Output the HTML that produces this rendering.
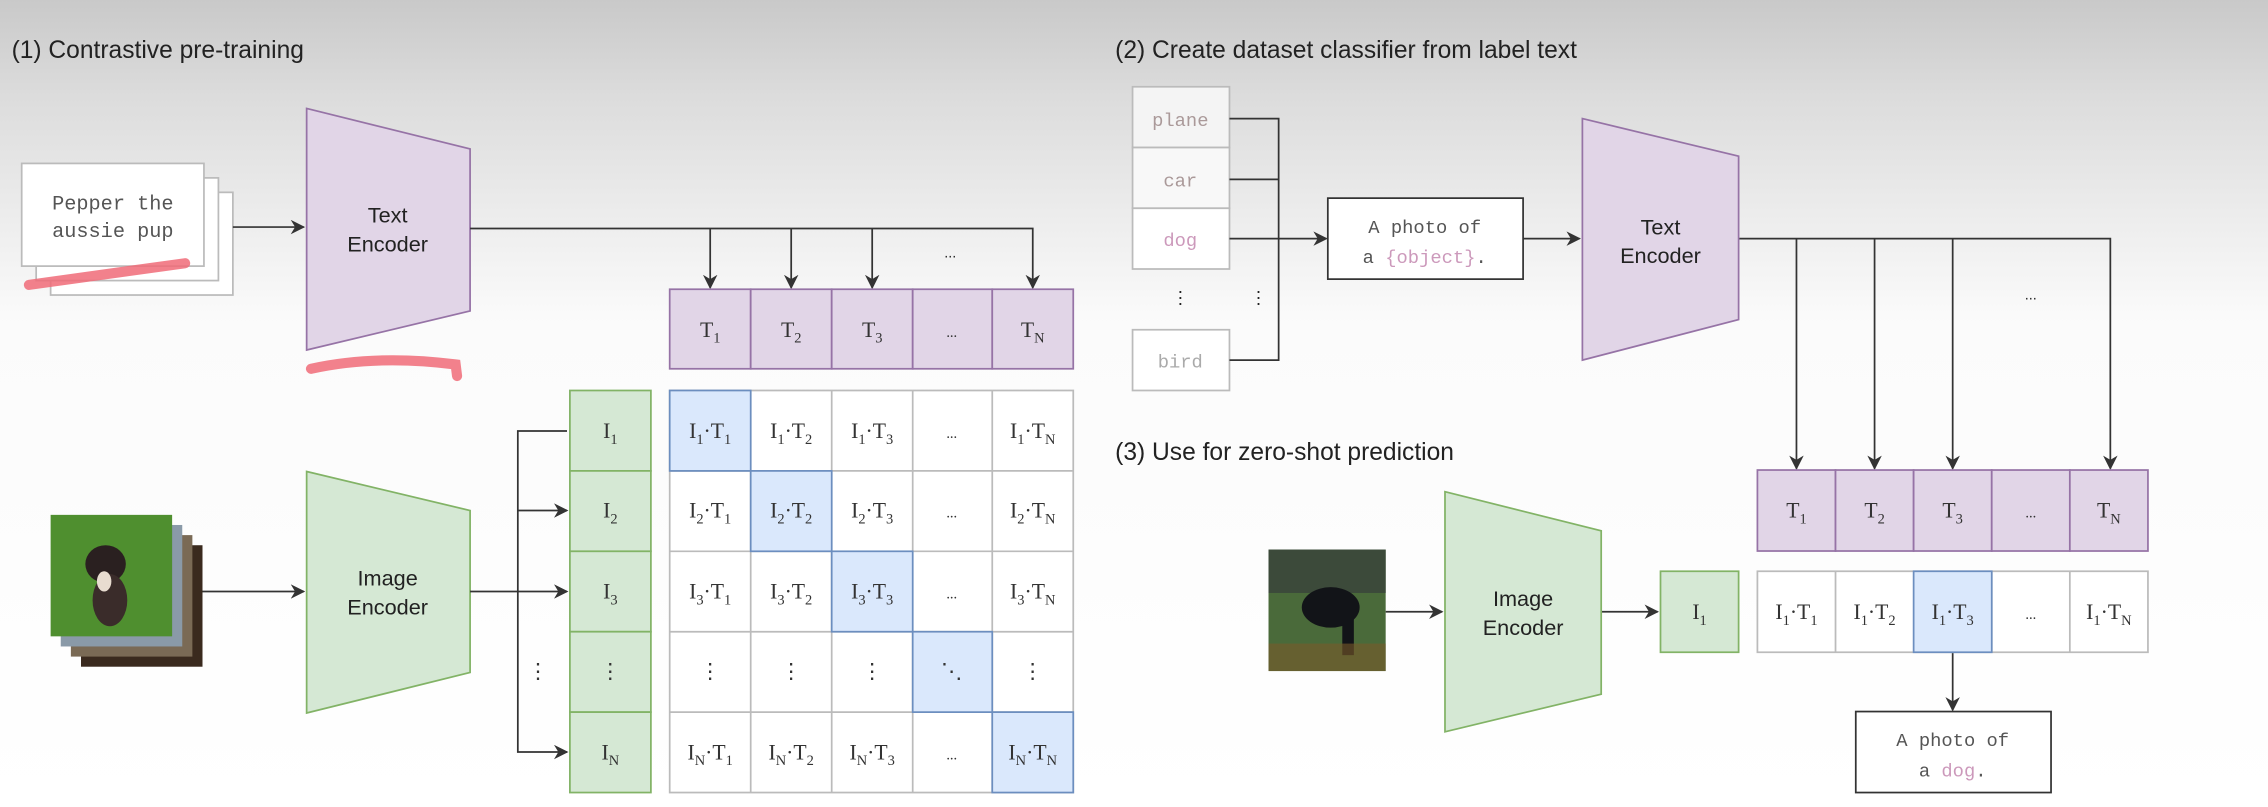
<!DOCTYPE html>
<html><head><meta charset="utf-8"><style>
html,body{margin:0;padding:0;background:#fff}
svg{display:block}
.s{font-family:"Liberation Sans",sans-serif;fill:#222}
.m{font-family:"Liberation Mono",monospace;fill:#555}
.r{font-family:"Liberation Serif",serif;fill:#333;font-size:15px}
.b{font-size:10px}
</style></head><body>
<svg width="2268" height="807" viewBox="0 0 1568 558" preserveAspectRatio="none" xmlns="http://www.w3.org/2000/svg">
<defs>
<linearGradient id="bg" x1="0" y1="0" x2="0" y2="1">
<stop offset="0" stop-color="#c9c9c9"/><stop offset="0.12" stop-color="#dcdcdc"/><stop offset="0.4" stop-color="#fbfbfb"/><stop offset="1" stop-color="#fff"/>
</linearGradient>
<marker id="a" markerWidth="10" markerHeight="10" refX="9" refY="5" orient="auto" markerUnits="userSpaceOnUse"><path d="M0,0 L10,5 L0,10 L3,5 z" fill="#333"/></marker>
</defs>
<rect width="1568" height="558" fill="url(#bg)"/>
<g stroke="#444" stroke-width="1.2" fill="none">
</g>
<text class="s" x="8" y="40" font-size="17">(1) Contrastive pre-training</text>
<text class="s" x="771" y="40" font-size="17">(2) Create dataset classifier from label text</text>
<text class="s" x="771" y="318" font-size="17">(3) Use for zero-shot prediction</text>

<!-- text cards -->
<g fill="#fff" stroke="#bbb" stroke-width="1.2">
<rect x="35" y="133" width="126" height="71"/>
<rect x="25" y="123" width="126" height="71"/>
<rect x="15" y="113" width="126" height="71"/>
</g>
<text class="m" x="78" y="145" font-size="14" text-anchor="middle">Pepper the</text>
<text class="m" x="78" y="164" font-size="14" text-anchor="middle">aussie pup</text>
<path d="M20,197 Q70,190 128,182" stroke="#f06b78" stroke-width="7" fill="none" stroke-linecap="round" opacity="0.85"/>
<path d="M215,255 Q260,245 315,252 L316,260" stroke="#f06b78" stroke-width="7" fill="none" stroke-linecap="round" opacity="0.85"/>

<!-- encoders -->
<polygon points="212,75 325,103 325,215 212,242" fill="#e1d5e7" stroke="#9673a6" stroke-width="1.2"/>
<text class="s" x="268" y="154" font-size="15" text-anchor="middle">Text</text>
<text class="s" x="268" y="174" font-size="15" text-anchor="middle">Encoder</text>
<polygon points="212,326 325,353 325,465 212,493" fill="#d5e8d4" stroke="#82b366" stroke-width="1.2"/>
<text class="s" x="268" y="405" font-size="15" text-anchor="middle">Image</text>
<text class="s" x="268" y="425" font-size="15" text-anchor="middle">Encoder</text>

<!-- image stack -->
<rect x="56" y="377" width="84" height="84" fill="#3a2a1e"/>
<rect x="49" y="370" width="84" height="84" fill="#7a6a55"/>
<rect x="42" y="363" width="84" height="84" fill="#8a9aa8"/>
<rect x="35" y="356" width="84" height="84" fill="#4f8f2f"/>
<ellipse cx="73" cy="390" rx="14" ry="13" fill="#2a2020"/>
<ellipse cx="76" cy="415" rx="12" ry="18" fill="#3a2c2a"/>
<ellipse cx="72" cy="402" rx="5" ry="7" fill="#e8dcd0"/>

<!-- arrows left -->
<g stroke="#333" stroke-width="1.2" fill="none">
<line x1="161" y1="157" x2="210" y2="157" marker-end="url(#a)"/>
<line x1="140" y1="409" x2="210" y2="409" marker-end="url(#a)"/>
<polyline points="325,158 714,158 714,199" marker-end="url(#a)"/>
<line x1="491" y1="158" x2="491" y2="199" marker-end="url(#a)"/>
<line x1="547" y1="158" x2="547" y2="199" marker-end="url(#a)"/>
<line x1="603" y1="158" x2="603" y2="199" marker-end="url(#a)"/>
<line x1="325" y1="409" x2="392" y2="409" marker-end="url(#a)"/>
<polyline points="392,298 358,298 358,520 392,520" marker-end="url(#a)"/>
<line x1="358" y1="353" x2="392" y2="353" marker-end="url(#a)"/>
</g>
<text class="s" x="657" y="178" font-size="10" fill="#666" text-anchor="middle">...</text>

<!-- T row left -->
<g fill="#e1d5e7" stroke="#9673a6" stroke-width="1.2">
<rect x="463" y="200" width="56" height="55"/><rect x="519" y="200" width="56" height="55"/><rect x="575" y="200" width="56" height="55"/><rect x="631" y="200" width="55" height="55"/><rect x="686" y="200" width="56" height="55"/>
</g>
<g class="r" text-anchor="middle">
<text x="491" y="233">T<tspan class="b" dy="4">1</tspan></text>
<text x="547" y="233">T<tspan class="b" dy="4">2</tspan></text>
<text x="603" y="233">T<tspan class="b" dy="4">3</tspan></text>
<text x="658" y="233" font-size="10">...</text>
<text x="714" y="233">T<tspan class="b" dy="4">N</tspan></text>
</g>

<!-- I column -->
<g fill="#d5e8d4" stroke="#82b366" stroke-width="1.2">
<rect x="394" y="270" width="56" height="55.6"/><rect x="394" y="325.6" width="56" height="55.6"/><rect x="394" y="381.2" width="56" height="55.6"/><rect x="394" y="436.8" width="56" height="55.6"/><rect x="394" y="492.4" width="56" height="55.6"/>
</g>
<g class="r" text-anchor="middle">
<text x="422" y="303">I<tspan class="b" dy="4">1</tspan></text>
<text x="422" y="358">I<tspan class="b" dy="4">2</tspan></text>
<text x="422" y="414">I<tspan class="b" dy="4">3</tspan></text>
<text x="422" y="469">⋮</text>
<text x="372" y="469">⋮</text>
<text x="422" y="525">I<tspan class="b" dy="4">N</tspan></text>
</g>

<!-- grid -->
<g fill="#fff" stroke="#bbb" stroke-width="1.2">
<rect x="463" y="270" width="279" height="278"/>
<line x1="519" y1="270" x2="519" y2="548"/><line x1="575" y1="270" x2="575" y2="548"/><line x1="631" y1="270" x2="631" y2="548"/><line x1="686" y1="270" x2="686" y2="548"/>
<line x1="463" y1="325.6" x2="742" y2="325.6"/><line x1="463" y1="381.2" x2="742" y2="381.2"/><line x1="463" y1="436.8" x2="742" y2="436.8"/><line x1="463" y1="492.4" x2="742" y2="492.4"/>
</g>
<g fill="#dae8fc" stroke="#6c8ebf" stroke-width="1.2">
<rect x="463" y="270" width="56" height="55.6"/><rect x="519" y="325.6" width="56" height="55.6"/><rect x="575" y="381.2" width="56" height="55.6"/><rect x="631" y="436.8" width="55" height="55.6"/><rect x="686" y="492.4" width="56" height="55.6"/>
</g>
<g class="r" text-anchor="middle" font-size="14">
<text x="491" y="303">I<tspan class="b" dy="4">1</tspan><tspan dy="-4">·T</tspan><tspan class="b" dy="4">1</tspan></text>
<text x="547" y="303">I<tspan class="b" dy="4">1</tspan><tspan dy="-4">·T</tspan><tspan class="b" dy="4">2</tspan></text>
<text x="603" y="303">I<tspan class="b" dy="4">1</tspan><tspan dy="-4">·T</tspan><tspan class="b" dy="4">3</tspan></text>
<text x="658" y="303" font-size="10">...</text>
<text x="714" y="303">I<tspan class="b" dy="4">1</tspan><tspan dy="-4">·T</tspan><tspan class="b" dy="4">N</tspan></text>
<text x="491" y="358">I<tspan class="b" dy="4">2</tspan><tspan dy="-4">·T</tspan><tspan class="b" dy="4">1</tspan></text>
<text x="547" y="358">I<tspan class="b" dy="4">2</tspan><tspan dy="-4">·T</tspan><tspan class="b" dy="4">2</tspan></text>
<text x="603" y="358">I<tspan class="b" dy="4">2</tspan><tspan dy="-4">·T</tspan><tspan class="b" dy="4">3</tspan></text>
<text x="658" y="358" font-size="10">...</text>
<text x="714" y="358">I<tspan class="b" dy="4">2</tspan><tspan dy="-4">·T</tspan><tspan class="b" dy="4">N</tspan></text>
<text x="491" y="414">I<tspan class="b" dy="4">3</tspan><tspan dy="-4">·T</tspan><tspan class="b" dy="4">1</tspan></text>
<text x="547" y="414">I<tspan class="b" dy="4">3</tspan><tspan dy="-4">·T</tspan><tspan class="b" dy="4">2</tspan></text>
<text x="603" y="414">I<tspan class="b" dy="4">3</tspan><tspan dy="-4">·T</tspan><tspan class="b" dy="4">3</tspan></text>
<text x="658" y="414" font-size="10">...</text>
<text x="714" y="414">I<tspan class="b" dy="4">3</tspan><tspan dy="-4">·T</tspan><tspan class="b" dy="4">N</tspan></text>
<text x="491" y="469">⋮</text><text x="547" y="469">⋮</text><text x="603" y="469">⋮</text><text x="658" y="469">⋱</text><text x="714" y="469">⋮</text>
<text x="491" y="525">I<tspan class="b" dy="4">N</tspan><tspan dy="-4">·T</tspan><tspan class="b" dy="4">1</tspan></text>
<text x="547" y="525">I<tspan class="b" dy="4">N</tspan><tspan dy="-4">·T</tspan><tspan class="b" dy="4">2</tspan></text>
<text x="603" y="525">I<tspan class="b" dy="4">N</tspan><tspan dy="-4">·T</tspan><tspan class="b" dy="4">3</tspan></text>
<text x="658" y="525" font-size="10">...</text>
<text x="714" y="525">I<tspan class="b" dy="4">N</tspan><tspan dy="-4">·T</tspan><tspan class="b" dy="4">N</tspan></text>
</g>

<!-- (2) -->
<g fill="#fff" stroke="#bbb" stroke-width="1.2">
<rect x="783" y="60" width="67" height="42" fill="#f4f4f4"/><rect x="783" y="102" width="67" height="42" fill="#f8f8f8"/><rect x="783" y="144" width="67" height="42"/><rect x="783" y="228" width="67" height="42"/>
</g>
<g class="m" font-size="13" text-anchor="middle" fill="#999">
<text x="816" y="87" fill="#a99">plane</text><text x="816" y="129" fill="#a99">car</text><text x="816" y="170" fill="#c9b">dog</text><text x="816" y="254" fill="#aaa">bird</text>
</g>
<text class="s" x="816" y="210" font-size="12" fill="#666" text-anchor="middle">⋮</text>
<text class="s" x="870" y="210" font-size="12" fill="#666" text-anchor="middle">⋮</text>
<g stroke="#333" stroke-width="1.2" fill="none">
<polyline points="850,82 884,82 884,249 850,249"/>
<line x1="850" y1="124" x2="884" y2="124"/>
<line x1="850" y1="165" x2="917" y2="165" marker-end="url(#a)"/>
<line x1="1053" y1="165" x2="1092" y2="165" marker-end="url(#a)"/>
<polyline points="1202,165 1459,165 1459,324" marker-end="url(#a)"/>
<line x1="1242" y1="165" x2="1242" y2="324" marker-end="url(#a)"/>
<line x1="1296" y1="165" x2="1296" y2="324" marker-end="url(#a)"/>
<line x1="1350" y1="165" x2="1350" y2="324" marker-end="url(#a)"/>
<line x1="958" y1="423" x2="997" y2="423" marker-end="url(#a)"/>
<line x1="1107" y1="423" x2="1146" y2="423" marker-end="url(#a)"/>
<line x1="1350" y1="451" x2="1350" y2="491" marker-end="url(#a)"/>
</g>
<rect x="918" y="137" width="135" height="56" fill="#fff" stroke="#333" stroke-width="1.2"/>
<text class="m" x="985" y="161" font-size="13" text-anchor="middle" fill="#444">A photo of</text>
<text class="m" x="985" y="182" font-size="13" text-anchor="middle" fill="#444">a <tspan fill="#c9b">{object}</tspan>.</text>
<polygon points="1094,82 1202,108 1202,221 1094,249" fill="#e1d5e7" stroke="#9673a6" stroke-width="1.2"/>
<text class="s" x="1148" y="162" font-size="15" text-anchor="middle">Text</text>
<text class="s" x="1148" y="182" font-size="15" text-anchor="middle">Encoder</text>
<text class="s" x="1404" y="207" font-size="10" fill="#666" text-anchor="middle">...</text>

<g fill="#e1d5e7" stroke="#9673a6" stroke-width="1.2">
<rect x="1215" y="325" width="54" height="56"/><rect x="1269" y="325" width="54" height="56"/><rect x="1323" y="325" width="54" height="56"/><rect x="1377" y="325" width="54" height="56"/><rect x="1431" y="325" width="54" height="56"/>
</g>
<g class="r" text-anchor="middle">
<text x="1242" y="358">T<tspan class="b" dy="4">1</tspan></text>
<text x="1296" y="358">T<tspan class="b" dy="4">2</tspan></text>
<text x="1350" y="358">T<tspan class="b" dy="4">3</tspan></text>
<text x="1404" y="358" font-size="10">...</text>
<text x="1458" y="358">T<tspan class="b" dy="4">N</tspan></text>
</g>
<g fill="#fff" stroke="#bbb" stroke-width="1.2">
<rect x="1215" y="395" width="270" height="56"/>
<line x1="1269" y1="395" x2="1269" y2="451"/><line x1="1377" y1="395" x2="1377" y2="451"/><line x1="1431" y1="395" x2="1431" y2="451"/>
</g>
<rect x="1323" y="395" width="54" height="56" fill="#dae8fc" stroke="#6c8ebf" stroke-width="1.2"/>
<g class="r" text-anchor="middle" font-size="14">
<text x="1242" y="428">I<tspan class="b" dy="4">1</tspan><tspan dy="-4">·T</tspan><tspan class="b" dy="4">1</tspan></text>
<text x="1296" y="428">I<tspan class="b" dy="4">1</tspan><tspan dy="-4">·T</tspan><tspan class="b" dy="4">2</tspan></text>
<text x="1350" y="428">I<tspan class="b" dy="4">1</tspan><tspan dy="-4">·T</tspan><tspan class="b" dy="4">3</tspan></text>
<text x="1404" y="428" font-size="10">...</text>
<text x="1458" y="428">I<tspan class="b" dy="4">1</tspan><tspan dy="-4">·T</tspan><tspan class="b" dy="4">N</tspan></text>
</g>

<!-- (3) -->
<rect x="877" y="380" width="81" height="84" fill="#4a6a3a"/>
<rect x="877" y="380" width="81" height="30" fill="#3c4a3a"/>
<ellipse cx="920" cy="420" rx="20" ry="14" fill="#121418"/>
<rect x="928" y="425" width="8" height="28" fill="#121418"/>
<rect x="877" y="445" width="81" height="19" fill="#7a5a2a" opacity="0.6"/>
<polygon points="999,340 1107,367 1107,480 999,506" fill="#d5e8d4" stroke="#82b366" stroke-width="1.2"/>
<text class="s" x="1053" y="419" font-size="15" text-anchor="middle">Image</text>
<text class="s" x="1053" y="439" font-size="15" text-anchor="middle">Encoder</text>
<rect x="1148" y="395" width="54" height="56" fill="#d5e8d4" stroke="#82b366" stroke-width="1.2"/>
<text class="r" x="1175" y="428" text-anchor="middle">I<tspan class="b" dy="4">1</tspan></text>
<rect x="1283" y="492" width="135" height="56" fill="#fff" stroke="#333" stroke-width="1.2"/>
<text class="m" x="1350" y="516" font-size="13" text-anchor="middle" fill="#555">A photo of</text>
<text class="m" x="1350" y="537" font-size="13" text-anchor="middle" fill="#555">a <tspan fill="#c9b">dog</tspan>.</text>
</svg>
</body></html>
